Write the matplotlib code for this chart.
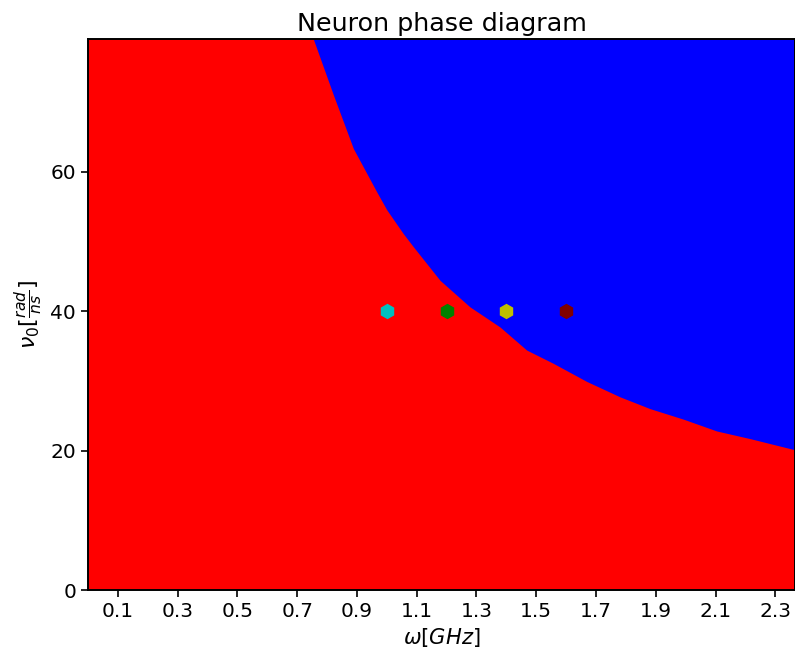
import numpy as np
import matplotlib.pyplot as plt

# phase boundary (omega in GHz, nu0 in rad/ns)
omega_b = [0.754, 0.821, 0.888, 0.966, 1.000, 1.055, 1.089, 1.178, 1.278, 1.379,
           1.468, 1.557, 1.669, 1.780, 1.881, 1.992, 2.104, 2.216, 2.366]
nu_b = [79.0, 71.0, 63.3, 57.1, 54.5, 51.1, 49.2, 44.4, 40.6, 37.7,
        34.4, 32.5, 29.9, 27.7, 26.0, 24.5, 22.8, 21.7, 20.1]

# marked neurons
omega_pts = [1.0, 1.2, 1.4, 1.6]
nu_pts = [40, 40, 40, 40]
pt_colors = ['c', 'g', 'y', 'maroon']

xmax = 2.366
ymax = 79
xticks = [0.1, 0.3, 0.5, 0.7, 0.9, 1.1, 1.3, 1.5, 1.7, 1.9, 2.1, 2.3]

fig = plt.figure(figsize=(7.95, 6.56), dpi=100)
ax = fig.add_axes([88/795, 66/656, 707/795, 551/656])

# red phase everywhere, blue above the boundary
ax.fill_between([0, xmax], 0, ymax, color='red', linewidth=0)
ax.fill_between(omega_b, nu_b, ymax, color='blue', linewidth=0)

for w, n, c in zip(omega_pts, nu_pts, pt_colors):
    ax.plot(w, n, 'h', color=c, markersize=10)

ax.set_xlim(0, xmax)
ax.set_ylim(0, ymax)
ax.set_xticks(xticks)
ax.set_yticks([0, 20, 40, 60])
ax.tick_params(labelsize=14.5, length=5, width=1.2)
for s in ax.spines.values():
    s.set_linewidth(1.4)

ax.set_title('Neuron phase diagram', fontsize=18.3)
ax.set_xlabel(r'$\omega[GHz]$', fontsize=15.2)
ax.set_ylabel(r'$\nu_0[\frac{rad}{ns}]$', fontsize=16)

plt.savefig('out.png')
plt.close()
